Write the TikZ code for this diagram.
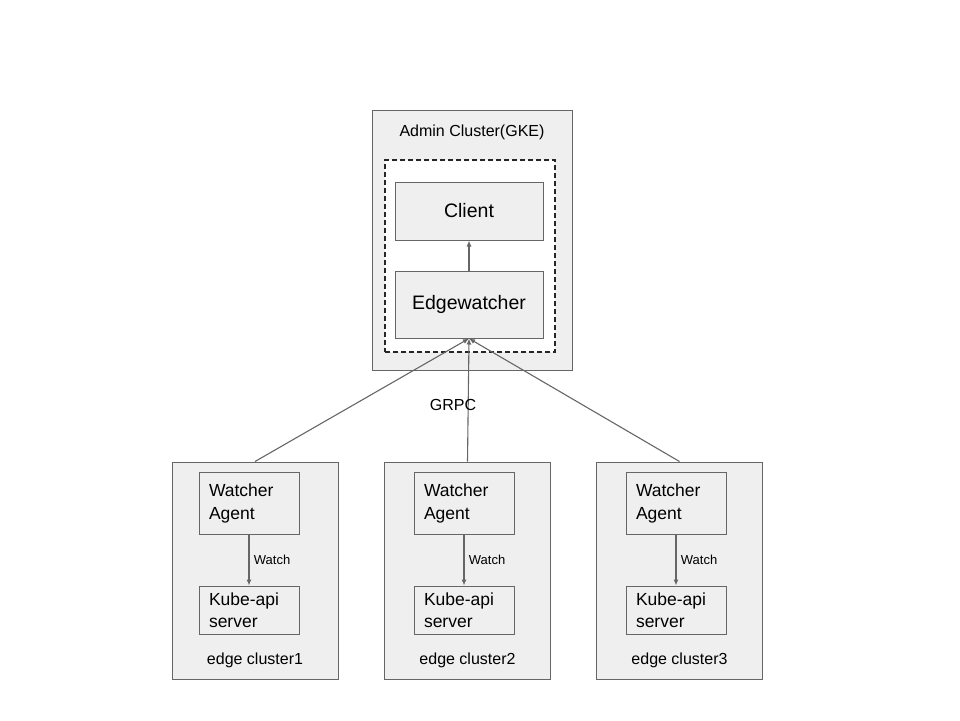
\documentclass[tikz,border=0pt]{standalone}
\usepackage{fontspec}
\setmainfont{Liberation Sans}
\usetikzlibrary{arrows.meta}
\definecolor{boxgray}{HTML}{EFEFEF}
\definecolor{linegray}{HTML}{666666}

\begin{document}
\begin{tikzpicture}[x=1pt,y=-1pt,
        box/.style={draw=linegray,fill=boxgray,line width=1pt},
        arr/.style={draw=linegray,line width=1.1pt,-{Latex[length=6pt,width=5pt]}}]
        \useasboundingbox (0,0) rectangle (960,720);
        \node[box,minimum width=200pt,minimum height=260pt] (admin) at (472,240) {};
        \node[font=\fontsize{16}{19}\selectfont] (admintitle) at (472,132) {Admin Cluster(GKE)};
        \node[draw=black!85,line width=1.1pt,dash pattern=on 5pt off 3pt,fill=white,minimum width=170pt,minimum height=192pt] (inner) at (470,256) {};
        \node[box,minimum width=148pt,minimum height=58pt,font=\fontsize{19.5}{23}\selectfont] (client) at (469,211) {Client};
        \node[box,minimum width=148pt,minimum height=67pt,font=\fontsize{19.5}{23}\selectfont] (edgewatcher) at (469,304.5) {Edgewatcher};
        \draw[arr] (edgewatcher) -- (client);
        \foreach \i/\x/\a in {1/255/249,2/467.5/464,3/679.5/676} {
                \node[box,minimum width=166pt,minimum height=217pt] (edge\i) at (\x,570.5) {};
                \node[font=\fontsize{16}{19}\selectfont] (edgelabel\i) at (\x,660) {edge cluster\i};
                \node[box,minimum width=100pt,minimum height=62pt,text width=80pt,inner xsep=10pt,align=left,font=\fontsize{17.5}{23}\selectfont] (agent\i) at (\a,503) {Watcher\\Agent};
                \node[box,minimum width=100pt,minimum height=48pt,text width=80pt,inner xsep=10pt,align=left,font=\fontsize{17.5}{22}\selectfont] (kube\i) at (\a,610) {Kube-api\\server};
                \draw[arr] (agent\i) -- node[right=1pt,font=\fontsize{13}{15}\selectfont] {Watch} (kube\i);
                \draw[arr] (edge\i.north) -- (edgewatcher.south);
        }
        \node[font=\fontsize{16}{19}\selectfont] (grpc) at (453,405) {GRPC};
\end{tikzpicture}
\end{document}
